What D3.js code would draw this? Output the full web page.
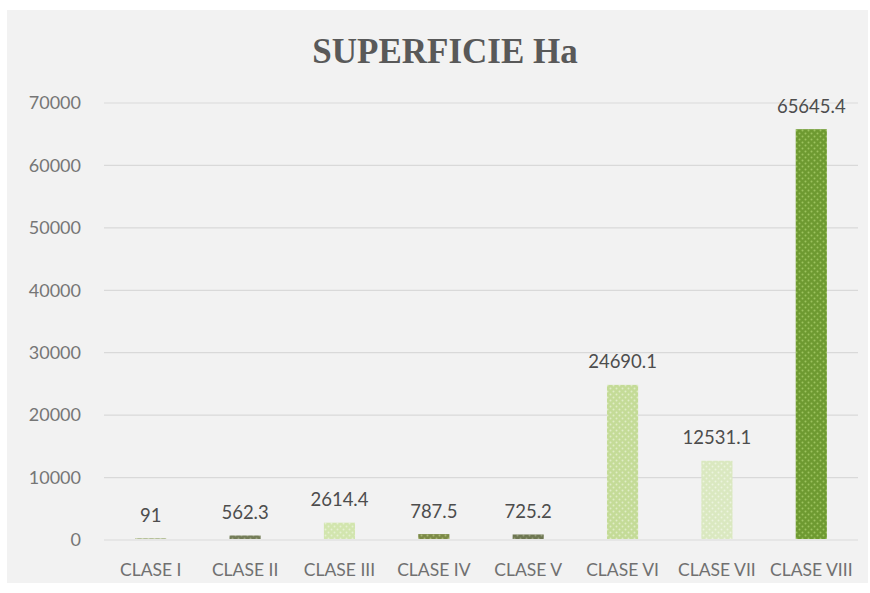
<!DOCTYPE html>
<html>
<head>
<meta charset="utf-8">
<script src="https://cdn.jsdelivr.net/npm/d3@7"></script>
<style>
  body { margin: 0; background: #fff; }
  text { font-family: Lato, "Open Sans", sans-serif; }
</style>
</head>
<body>
<div id="container"></div>
<script>

const categories = ["CLASE I", "CLASE II", "CLASE III", "CLASE IV", "CLASE V", "CLASE VI", "CLASE VII", "CLASE VIII"];
const superficie = [91, 562.3, 2614.4, 787.5, 725.2, 24690.1, 12531.1, 65645.4];
const valueLabels = ["91", "562.3", "2614.4", "787.5", "725.2", "24690.1", "12531.1", "65645.4"];
const yTicks = [0, 10000, 20000, 30000, 40000, 50000, 60000, 70000];
const barColors = ["#8a9a5b", "#737c58", "#d2e5ae", "#7c8a47", "#6e7752", "#c4db97", "#dae8c0", "#6e9a31"];
const dotColors = ["#b7c98a", "#9aa37e", "#e6f1d2", "#a9b873", "#979f7c", "#e0edc6", "#ecf4de", "#9dc35f"];

function main() {
    const width = 870, height = 593;
    const svg = d3.select("#container")
        .append("svg")
        .attr("width", width)
        .attr("height", height);

    // chart area background
    svg.append("rect")
        .attr("x", 7).attr("y", 10)
        .attr("width", 861).attr("height", 573)
        .attr("fill", "#f2f2f2");

    const defs = svg.append("defs");
    barColors.forEach((c, i) => {
        const p = defs.append("pattern")
            .attr("id", "dots" + i)
            .attr("patternUnits", "userSpaceOnUse")
            .attr("width", 6).attr("height", 6);
        p.append("rect").attr("width", 6).attr("height", 6).attr("fill", c);
        p.append("circle").attr("cx", 1.5).attr("cy", 1.5).attr("r", 1).attr("fill", dotColors[i]);
        p.append("circle").attr("cx", 4.5).attr("cy", 4.5).attr("r", 1).attr("fill", dotColors[i]);
    });

    const x = d3.scaleBand()
        .domain(categories)
        .range([104, 858])
        .paddingInner(0.67)
        .paddingOuter(0.33);

    const y = d3.scaleLinear()
        .domain([0, 70000])
        .range([540, 103]);

    // gridlines
    svg.append("g")
        .selectAll("line")
        .data(yTicks)
        .join("line")
        .attr("x1", 104).attr("x2", 858)
        .attr("y1", d => y(d)).attr("y2", d => y(d))
        .attr("stroke", "#d9d9d9")
        .attr("stroke-width", 1.2);

    // y axis labels
    svg.append("g")
        .selectAll("text")
        .data(yTicks)
        .join("text")
        .attr("x", 81)
        .attr("y", d => y(d))
        .attr("dy", "0.35em")
        .attr("text-anchor", "end")
        .attr("fill", "#767676")
        .style("font-size", "18px")
        .text(d => d);

    // bars
    svg.append("g")
        .selectAll("rect")
        .data(superficie)
        .join("rect")
        .attr("x", (d, i) => x(categories[i]))
        .attr("width", x.bandwidth())
        .attr("y", d => y(d) - 1)
        .attr("height", d => y(0) - y(d))
        .attr("fill", (d, i) => "url(#dots" + i + ")");

    // value labels
    svg.append("g")
        .selectAll("text")
        .data(superficie)
        .join("text")
        .attr("x", (d, i) => x(categories[i]) + x.bandwidth() / 2)
        .attr("y", d => y(d) - 24)
        .attr("dy", "0.35em")
        .attr("text-anchor", "middle")
        .attr("fill", "#4d4d4d")
        .style("font-size", "18.5px")
        .text((d, i) => valueLabels[i]);

    // category labels
    svg.append("g")
        .selectAll("text")
        .data(categories)
        .join("text")
        .attr("x", d => x(d) + x.bandwidth() / 2)
        .attr("y", 576)
        .attr("text-anchor", "middle")
        .attr("fill", "#707070")
        .style("font-size", "17.5px")
        .text(d => d);

    // title
    svg.append("text")
        .attr("x", 445)
        .attr("y", 63)
        .attr("text-anchor", "middle")
        .attr("fill", "#595959")
        .style("font-family", "'Liberation Serif', serif")
        .style("font-weight", "bold")
        .style("font-size", "35px")
        .text("SUPERFICIE Ha");
}

main();
</script>
</body>
</html>
